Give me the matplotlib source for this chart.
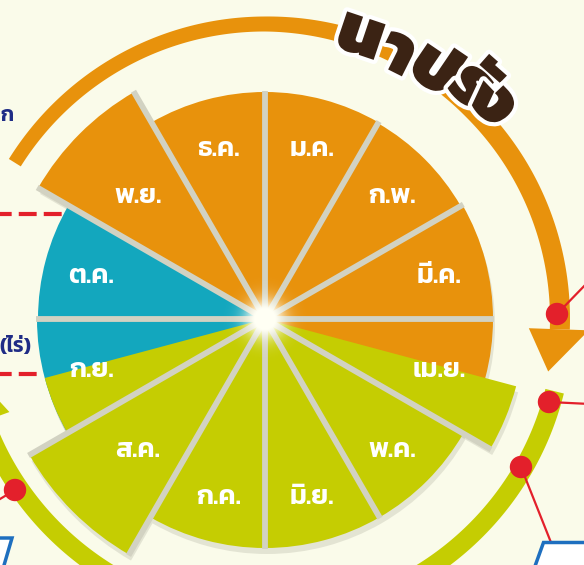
import numpy as np
import matplotlib
matplotlib.use("Agg")
import matplotlib.pyplot as plt
import matplotlib.patheffects as pe
from matplotlib.patches import Polygon, Circle
from matplotlib.transforms import offset_copy

# month wheel data (radius in px of each 30 degree slice)
months = ["ม.ค.", "ก.พ.", "มี.ค.", "เม.ย.", "พ.ค.", "มิ.ย.",
          "ก.ค.", "ส.ค.", "ก.ย.", "ต.ค.", "พ.ย.", "ธ.ค."]
month_radius = [227, 226, 228, 228, 229, 229, 229, 272, 228, 227, 262, 227]
month_phase = ["dry", "dry", "dry", "dry", "wet", "wet",
               "wet", "wet", "harvest", "harvest", "dry", "dry"]

# half-month slices laid over the wheel (start in months from Jan)
part_start = [3.5, 8.0]
part_length = [0.5, 0.5]
part_radius = [260, 228]
part_phase = ["wet", "wet"]

phase_colors = {"dry": "#E8920C", "wet": "#C5CD02", "harvest": "#13A7BE"}

title_chars = ["น", "า", "ป", "รั", "ง"]

plt.rcParams["font.family"] = ["Kanit", "DejaVu Sans"]

W, H = 584, 565
cx, cy = 265, 319
R = 340

fig = plt.figure(figsize=(W / 100, H / 100), dpi=100)
fig.patch.set_facecolor("#FAFBEA")

bg = fig.add_axes([0, 0, 1, 1], zorder=0)
bg.set_xlim(0, W)
bg.set_ylim(H, 0)
bg.axis("off")


def polar_axes(dx=0, dy=0, z=1):
    rect = [(cx - R + dx) / W, (H - cy - dy - R) / H, 2 * R / W, 2 * R / H]
    ax = fig.add_axes(rect, projection="polar", zorder=z)
    ax.set_theta_zero_location("N")
    ax.set_theta_direction(-1)
    ax.set_ylim(0, R)
    ax.axis("off")
    ax.patch.set_alpha(0)
    return ax


def to_px(t_deg, r):
    t = np.radians(t_deg)
    return cx + r * np.sin(t), cy - r * np.cos(t)


def band(t0, t1, r_in, r_out, color):
    t = np.linspace(t0, t1, 200)
    r_in = np.broadcast_to(r_in, t.shape)
    r_out = np.broadcast_to(r_out, t.shape)
    xo, yo = to_px(t, r_out)
    xi, yi = to_px(t[::-1], r_in[::-1])
    bg.add_patch(Polygon(np.column_stack([np.r_[xo, xi], np.r_[yo, yi]]),
                         closed=True, color=color, lw=0, zorder=1))


def head(t_base, r0, r1, t_tip, r_tip, color):
    pts = [to_px(t_base, r0), to_px(t_base, r1), to_px(t_tip, r_tip)]
    bg.add_patch(Polygon(pts, closed=True, color=color, lw=0, zorder=1))


step = 2 * np.pi / 12
theta = (np.arange(12) + 0.5) * step
part_theta = (np.array(part_start) + np.array(part_length) / 2) * step
part_width = np.array(part_length) * step

# soft shadow under the wheel
sh = polar_axes(dx=2, dy=6, z=1)
sh.bar(theta, month_radius, width=step, color="#8a8a78", alpha=0.2, linewidth=0)
sh.bar(part_theta, part_radius, width=part_width, color="#8a8a78", alpha=0.2, linewidth=0)

ax = polar_axes(z=2)
ax.bar(theta, month_radius, width=step,
       color=[phase_colors[p] for p in month_phase], linewidth=0, zorder=2)
ax.bar(part_theta, part_radius, width=part_width,
       color=[phase_colors[p] for p in part_phase], linewidth=0, zorder=3)

# light gaps between months
for k in range(12):
    r_edge = [month_radius[k], month_radius[k - 1]]
    for s, l, r in zip(part_start, part_length, part_radius):
        if np.isclose(s % 12, k) or np.isclose((s + l) % 12, k):
            r_edge.append(r)
    ax.plot([k * step, k * step], [0, max(r_edge) + 1], color="#D2D2C2",
            lw=4.2, solid_capstyle="butt", zorder=4)

label_tr = offset_copy(ax.transData, fig=fig, x=0, y=-5, units="dots")
for t, name in zip(theta, months):
    ax.text(t, 180, name, ha="center", va="center", color="white",
            fontsize=19.5, fontweight=600, zorder=6, transform=label_tr)

# orange arrow around the top, green one around the bottom
t_arc = np.linspace(-58, 92, 200)
w_arc = np.interp(t_arc, [-58, 0, 45, 92], [14, 15, 20, 20])
band(-58, 92, 295 - w_arc / 2, 295 + w_arc / 2, "#E8920C")
head(92, 264, 324, 100.5, 288, "#E8920C")
band(104, 250, 289, 308, "#C5CD02")
head(250, 272, 326, 260, 298, "#C5CD02")

# title along the arc
deg = np.pi / 180
title_theta = [18.6, 26.6, 34.2, 41.5, 46.4]
title_r = [297, 295, 299, 309, 313]
for ch, t, r in zip(title_chars, title_theta, title_r):
    ax.text(t * deg, r, ch, ha="center", va="center", rotation=-t,
            rotation_mode="anchor", color="#3B2314", fontsize=50,
            fontweight=900, zorder=8,
            path_effects=[pe.withStroke(linewidth=6, foreground="white")])

# overlay: glow, dots
top = fig.add_axes([0, 0, 1, 1], zorder=3)
top.set_xlim(0, W)
top.set_ylim(H, 0)
top.axis("off")
top.patch.set_alpha(0)

gy, gx = np.mgrid[-50:51, -50:51]
d = np.hypot(gx, gy)
glow = np.zeros((101, 101, 4))
glow[..., :3] = [1.0, 1.0, 0.96]
glow[..., 3] = np.clip(1.4 * np.exp(-(d / 19) ** 2), 0, 1)
top.imshow(glow, extent=[cx - 50, cx + 50, cy + 50, cy - 50], zorder=1)

red = "#E3202B"
dots_x = [557, 549, 521, 15]
dots_y = [314, 402, 467, 490]
lines = [([557, 590], [314, 280]), ([549, 590], [402, 404]),
         ([521, 552], [467, 545]), ([15, -5], [490, 502])]
for lx, ly in lines:
    top.plot(lx, ly, color=red, lw=1.6, zorder=2)
for x, y in zip(dots_x, dots_y):
    top.add_patch(Circle((x, y), 10.5, color=red, zorder=3))

bg.plot([0, 63], [214, 214], color=red, lw=3, linestyle=(1.5, (4.3, 1.7)))
bg.plot([0, 40], [374, 374], color=red, lw=3, linestyle=(1.5, (4.3, 1.7)))

top.add_patch(Polygon([(543, 542), (640, 542), (640, 620), (515, 620)], closed=True,
                      facecolor="white", edgecolor="#1E6FBF", lw=2.5, zorder=2))
top.add_patch(Polygon([(-80, 538), (12, 538), (-12, 620), (-80, 620)], closed=True,
                      facecolor="white", edgecolor="#1E6FBF", lw=2.5, zorder=2))

bg.text(0, 116, "ก", ha="left", va="center", color="#1F2C86",
        fontsize=15, fontweight=600)
bg.text(-1, 346, "(ไร่)", ha="left", va="center", color="#1F2C86",
        fontsize=15, fontweight=600)

fig.savefig("out.png", dpi=100, facecolor=fig.get_facecolor())
